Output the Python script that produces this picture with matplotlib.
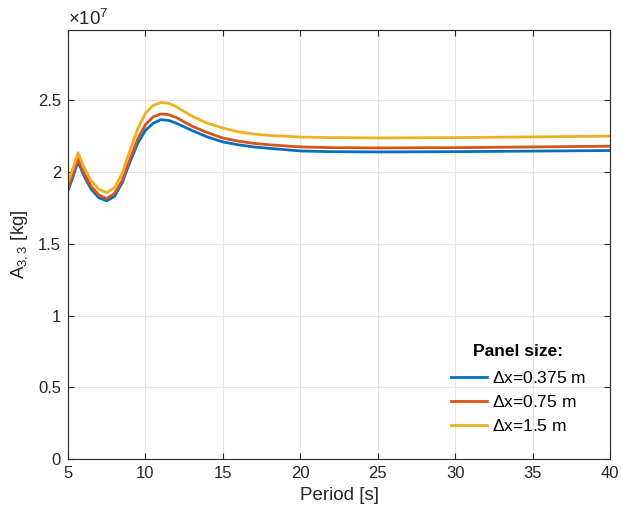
import matplotlib.pyplot as plt

plt.rcParams['font.family'] = ['Liberation Sans', 'DejaVu Sans']
plt.rcParams['mathtext.fontset'] = 'custom'
plt.rcParams['mathtext.rm'] = 'Liberation Sans'
plt.rcParams['mathtext.it'] = 'Liberation Sans'

# Period [s]
period = [5, 5.3, 5.65, 6, 6.5, 7, 7.5, 8, 8.5, 9, 9.5, 10, 10.5, 11, 11.5, 12,
          13, 14, 15, 16, 17, 18, 20, 22, 25, 30, 35, 40]

# Added mass A33 in units of 1e7 kg
a33_0375 = [1.87, 1.96, 2.075, 1.98, 1.88, 1.82, 1.80, 1.83, 1.925, 2.07, 2.20, 2.29,
            2.34, 2.365, 2.36, 2.34, 2.29, 2.245, 2.21, 2.19, 2.175, 2.165, 2.147,
            2.142, 2.14, 2.142, 2.146, 2.15]
a33_075 = [1.89, 1.98, 2.095, 2.00, 1.90, 1.84, 1.815, 1.85, 1.94, 2.09, 2.23, 2.33,
           2.385, 2.405, 2.40, 2.38, 2.32, 2.275, 2.237, 2.215, 2.20, 2.19, 2.175,
           2.17, 2.168, 2.17, 2.175, 2.18]
a33_15 = [1.93, 2.02, 2.135, 2.04, 1.94, 1.88, 1.857, 1.89, 1.99, 2.15, 2.30, 2.41,
          2.465, 2.484, 2.48, 2.455, 2.39, 2.34, 2.307, 2.28, 2.265, 2.255, 2.244,
          2.24, 2.238, 2.24, 2.245, 2.25]

labels = [r'$\Delta$x=0.375 m', r'$\Delta$x=0.75 m', r'$\Delta$x=1.5 m']
colors = ['#0072BD', '#D95319', '#EDB120']

fig = plt.figure(figsize=(6.22, 5.15), dpi=100)
ax = fig.add_axes([68 / 622, 56 / 515, 542 / 622, 429 / 515])

for y, lab, c in zip([a33_0375, a33_075, a33_15], labels, colors):
    ax.plot(period, y, color=c, linewidth=2, label=lab)

ax.set_xlim(5, 40)
ax.set_ylim(0, 2.99)
ax.set_xticks(range(5, 41, 5))
ax.set_yticks([0, 0.5, 1, 1.5, 2, 2.5])
ax.set_yticklabels(['0', '0.5', '1', '1.5', '2', '2.5'])
ax.grid(True, color='#e3e3e3', linewidth=0.8)
ax.set_axisbelow(True)
ax.tick_params(direction='in', top=True, right=True, length=4, width=0.8,
               colors='#262626', labelsize=12, pad=5)
for s in ax.spines.values():
    s.set_color('#262626')
    s.set_linewidth(0.8)

ax.set_xlabel('Period [s]', fontsize=13.5, color='#262626', labelpad=4)
ax.set_ylabel(r'A$_{3,3}$ [kg]', fontsize=13.5, color='#262626', labelpad=6)
ax.text(0, 1.003, r'$\times$10$^{7}$', transform=ax.transAxes, fontsize=13.5,
        color='#262626', va='bottom', ha='left')

leg = ax.legend(title='Panel size:', loc='lower right', frameon=False,
                fontsize=12.5, handlelength=2.1, handletextpad=0.25,
                labelspacing=0.45, borderaxespad=0,
                bbox_to_anchor=(0.968, 0.043))
leg.get_title().set_fontweight('bold')
leg.get_title().set_fontsize(12.5)
leg._legend_box.sep = 8

fig.savefig('out.png', dpi=100)
